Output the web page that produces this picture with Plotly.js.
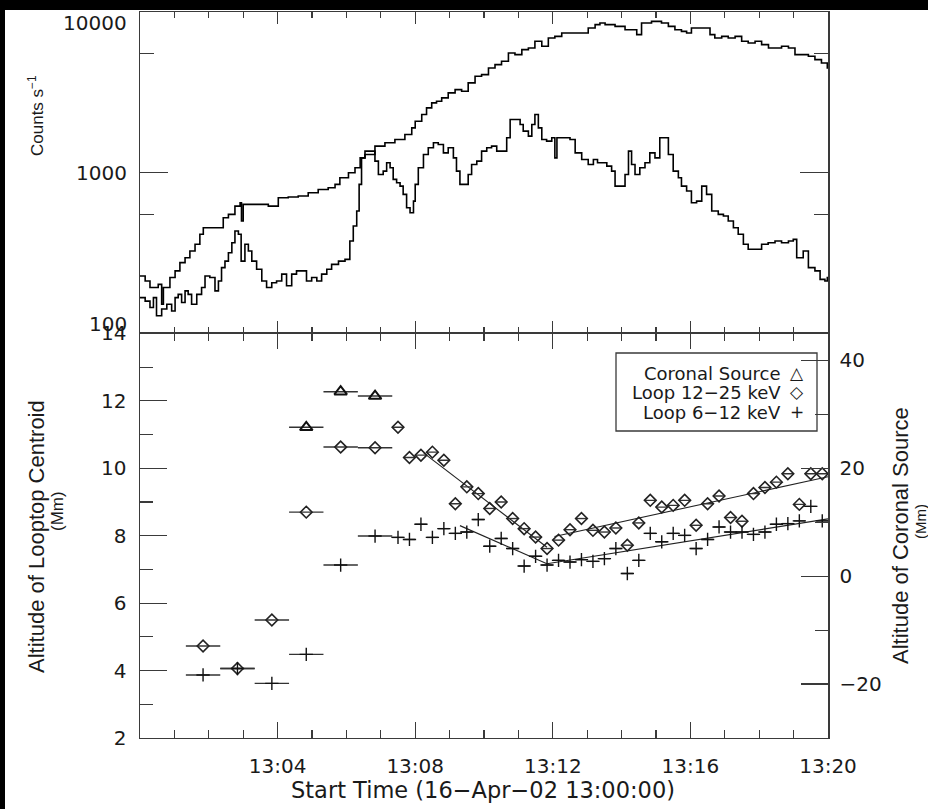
<!DOCTYPE html>
<html>
<head>
<meta charset="utf-8">
<script src="https://cdn.plot.ly/plotly-3.0.1.min.js"></script>
<style>
  html, body { margin: 0; padding: 0; background: #000; width: 928px; height: 809px; overflow: hidden; }
  #chart { position: absolute; left: 5px; top: 10px; width: 923px; height: 799px; background: #fff; }
</style>
</head>
<body>
<div id="chart"></div>
<script>
// ---- Light curves (minutes after 13:00:00, counts per second) ----
const softTime = [0.0,0.15,0.29,0.44,0.53,0.63,0.68,0.87,1.02,1.16,1.31,1.45,1.6,1.74,1.84,2.08,2.28,2.42,2.57,2.76,2.91,2.95,3.0,3.25,3.54,3.73,4.02,4.31,4.6,4.89,5.18,5.47,5.67,5.81,6.06,6.25,6.4,6.54,6.83,7.12,7.41,7.7,7.9,8.0,8.19,8.33,8.48,8.62,8.77,8.96,9.16,9.35,9.54,9.74,9.93,10.13,10.32,10.51,10.71,10.9,11.1,11.29,11.48,11.68,11.87,12.06,12.26,12.45,12.65,12.84,13.03,13.23,13.37,13.52,13.81,14.1,14.29,14.44,14.58,14.87,15.16,15.36,15.55,15.74,15.89,16.03,16.33,16.57,16.71,16.91,17.1,17.3,17.49,17.68,17.88,18.07,18.27,18.46,18.65,18.85,19.04,19.23,19.43,19.62,19.81,19.98,20.0];
const softCounts = [228,212,193,193,202,152,193,223,245,276,296,326,359,414,455,455,455,525,551,620,651,501,636,636,636,620,699,706,716,751,787,806,846,931,1000,1073,1238,1299,1464,1535,1610,1729,1902,2093,2302,2533,2720,2786,2921,3138,3291,3214,3622,3983,4078,4486,4705,4934,5561,5429,5832,5973,6570,6117,6892,7055,7401,7401,7401,7401,7950,8340,8539,8340,8143,7762,7762,7228,8539,8746,8539,8143,7762,7580,7401,7950,7950,7228,6892,7055,6892,7055,6570,6416,6570,6265,5973,5973,6117,5973,5429,5429,5302,5054,4819,4486,4486];

const hardTime = [0.0,0.15,0.29,0.39,0.48,0.63,0.78,0.92,1.02,1.11,1.21,1.31,1.4,1.5,1.65,1.79,1.89,2.03,2.18,2.28,2.37,2.47,2.57,2.67,2.76,2.86,2.94,3.05,3.15,3.25,3.39,3.54,3.68,3.83,3.97,4.12,4.26,4.41,4.55,4.7,4.84,4.99,5.14,5.28,5.43,5.57,5.77,5.96,6.1,6.2,6.3,6.37,6.44,6.54,6.73,6.83,6.93,7.07,7.17,7.27,7.36,7.46,7.56,7.65,7.75,7.85,7.95,8.0,8.09,8.24,8.38,8.53,8.67,8.82,8.96,9.11,9.2,9.3,9.45,9.54,9.64,9.79,9.93,10.08,10.22,10.37,10.51,10.66,10.76,10.9,11.05,11.14,11.29,11.39,11.48,11.58,11.68,11.82,11.97,12.06,12.12,12.35,12.5,12.65,12.84,13.03,13.18,13.3,13.42,13.57,13.71,13.81,14.0,14.1,14.2,14.29,14.39,14.53,14.68,14.82,14.97,15.11,15.26,15.36,15.5,15.65,15.74,15.89,16.03,16.18,16.33,16.47,16.62,16.81,16.96,17.1,17.25,17.39,17.54,17.68,17.88,18.07,18.26,18.46,18.65,18.85,18.99,19.09,19.28,19.43,19.62,19.77,19.91,19.98,20.0];
const hardCounts = [167,159,145,167,129,142,152,138,167,175,156,184,175,152,175,193,228,223,184,212,257,282,318,367,434,414,282,359,326,282,251,212,193,207,212,234,198,234,245,245,212,223,212,234,251,269,282,289,376,466,578,846,1238,1362,1362,1181,976,1023,1153,1073,909,866,826,733,606,564,666,846,1073,1299,1429,1535,1499,1330,1429,1238,1023,846,846,976,1126,1181,1362,1429,1464,1362,1362,1649,2143,2143,1995,1814,1689,1995,2302,1902,1610,1572,1649,1238,1649,1649,1610,1330,1209,1126,1209,1153,1153,1100,1023,826,826,976,1362,1126,976,1073,1153,1330,1238,1649,1649,1299,1023,931,826,769,651,666,826,733,578,551,538,501,455,414,359,334,334,359,367,376,367,376,385,296,326,257,245,217,212,223,223];

// ---- Source altitudes (bin centres in minutes after 13:00:00, altitude in Mm) ----
const coronalTime = [4.833, 5.833, 6.833];
const coronalAlt  = [27.6, 34.2, 33.4];
const coronalHalf = [0.5, 0.5, 0.5];

const loopTime = [1.833,2.833,3.833,4.833,5.833,6.833,7.5,7.833,8.167,8.5,8.833,9.167,9.5,9.833,10.167,10.5,10.833,11.167,11.5,11.833,12.167,12.5,12.833,13.167,13.5,13.833,14.167,14.5,14.833,15.167,15.5,15.833,16.167,16.5,16.833,17.167,17.5,17.833,18.167,18.5,18.833,19.167,19.5,19.833];
const loopHalf = [0.5,0.5,0.5,0.5,0.5,0.5,0.167,0.167,0.167,0.167,0.167,0.167,0.167,0.167,0.167,0.167,0.167,0.167,0.167,0.167,0.167,0.167,0.167,0.167,0.167,0.167,0.167,0.167,0.167,0.167,0.167,0.167,0.167,0.167,0.167,0.167,0.167,0.167,0.167,0.167,0.167,0.167,0.167,0.167];
const loop1225Alt = [4.73,4.06,5.50,8.70,10.63,10.61,11.22,10.32,10.39,10.48,10.24,8.95,9.45,9.25,8.81,9.00,8.51,8.21,7.96,7.62,7.87,8.18,8.51,8.16,8.11,8.23,7.72,8.38,9.05,8.85,8.90,9.05,8.31,8.95,9.18,8.54,8.43,9.25,9.43,9.59,9.84,8.93,9.84,9.84];
const loop612Alt  = [3.87,4.06,3.62,4.48,7.13,7.99,7.95,7.89,8.34,7.95,8.21,8.07,8.11,8.48,7.69,7.92,7.62,7.10,7.39,7.13,7.27,7.22,7.29,7.24,7.32,7.62,6.88,7.27,8.07,7.82,8.07,8.01,7.62,7.89,8.26,8.11,8.11,8.04,8.11,8.34,8.36,8.44,8.87,8.44];

// ---- Linear fits to the loop-top motion (start/end of each segment) ----
const fit1225DownT = [8.25, 11.83],  fit1225DownAlt = [10.45, 7.66];
const fit1225UpT   = [12.05, 20.0],  fit1225UpAlt   = [7.98, 9.75];
const fit612DownT  = [9.3, 11.83],   fit612DownAlt  = [8.3, 7.17];
const fit612UpT    = [11.83, 20.0],  fit612UpAlt    = [7.17, 8.5];

// ---- Axis tick labels ----
const timeTickVals = [4, 8, 12, 16, 20];
const timeTickText = ['13:04', '13:08', '13:12', '13:16', '13:20'];
const countTickVals = [10000, 1000, 100];
const countTickText = ['10000', '1000', '100'];
const legendLabels = ['Coronal Source', 'Loop 12\u221225 keV', 'Loop 6\u221212 keV'];
const legendGlyphs = ['\u25B3', '\u25C7', '+'];

// Pixel -> paper helpers (plot area spans x 140..828, y 12..738 in page pixels)
const PX0 = 140, PXW = 688, PY1 = 738, PYH = 726;
const px = X => (X - PX0) / PXW;
const py = Y => (PY1 - Y) / PYH;

const FONT = 'DejaVu Sans, sans-serif';
const TITLE_FONT = 'Liberation Sans, Arial, sans-serif';
const INK = '#1a1a1a';
const AX = '#3a3a3a';

const traces = [
  { x: softTime, y: softCounts, xaxis: 'x', yaxis: 'y', mode: 'lines',
    line: { shape: 'hv', color: '#000', width: 1.6 }, hoverinfo: 'skip' },
  { x: hardTime, y: hardCounts, xaxis: 'x', yaxis: 'y', mode: 'lines',
    line: { shape: 'hv', color: '#000', width: 1.6 }, hoverinfo: 'skip' },

  { x: fit1225DownT, y: fit1225DownAlt, xaxis: 'x2', yaxis: 'y2', mode: 'lines', line: { color: '#222', width: 1.1 } },
  { x: fit1225UpT,   y: fit1225UpAlt,   xaxis: 'x2', yaxis: 'y2', mode: 'lines', line: { color: '#222', width: 1.1 } },
  { x: fit612DownT,  y: fit612DownAlt,  xaxis: 'x2', yaxis: 'y2', mode: 'lines', line: { color: '#222', width: 1.1 } },
  { x: fit612UpT,    y: fit612UpAlt,    xaxis: 'x2', yaxis: 'y2', mode: 'lines', line: { color: '#222', width: 1.1 } },

  { x: loopTime, y: loop1225Alt, xaxis: 'x2', yaxis: 'y2', mode: 'markers',
    marker: { symbol: 'diamond-open', size: 9, color: '#222', line: { width: 1.6, color: '#222' } },
    error_x: { type: 'data', array: loopHalf, width: 0, thickness: 1.4, color: '#333' } },
  { x: loopTime, y: loop612Alt, xaxis: 'x2', yaxis: 'y2', mode: 'markers',
    marker: { symbol: 'cross-thin-open', size: 9.5, color: '#111', line: { width: 1.4, color: '#111' } },
    error_x: { type: 'data', array: loopHalf, width: 0, thickness: 1.4, color: '#333' } },
  { x: coronalTime, y: coronalAlt, xaxis: 'x2', yaxis: 'y3', mode: 'markers',
    marker: { symbol: 'triangle-up-open', size: 11, color: '#111', line: { width: 2, color: '#111' } },
    error_x: { type: 'data', array: coronalHalf, width: 0, thickness: 1.4, color: '#333' } }
];

const tickFont = { family: FONT, size: 20, color: INK };

const annotations = [];
// Count-rate tick labels (kept inside the panel height)
const countAnchor = ['top', 'middle', 'middle'];
const countShift = [3, 0, 9];
countTickVals.forEach((v, i) => {
  annotations.push({ xref: 'paper', yref: 'y', x: px(129), y: Math.log10(v), xanchor: 'right', yanchor: countAnchor[i],
    yshift: countShift[i], text: countTickText[i], showarrow: false, font: tickFont });
});
// Axis titles
const rot = (X, Y, text, size) => ({ xref: 'paper', yref: 'paper', x: px(X), y: py(Y), xanchor: 'center', yanchor: 'middle',
  text: text, textangle: -90, showarrow: false, font: { family: TITLE_FONT, size: size, color: INK } });
annotations.push(
  rot(36, 116, 'Counts s<sup>\u22121</sup>', 17),
  rot(36, 537, 'Altitude of Looptop Centroid', 22),
  rot(57, 511, '(Mm)', 17),
  rot(900, 536, 'Altitude of Coronal Source', 22),
  rot(920, 522, '(Mm)', 15),
  { xref: 'paper', yref: 'paper', x: px(483), y: py(790), xanchor: 'center', yanchor: 'middle',
    text: 'Start Time (16\u2212Apr\u221202 13:00:00)', showarrow: false,
    font: { family: FONT, size: 22.5, color: INK } }
);
// Legend panel
const legendRows = [373, 392.5, 412];
legendLabels.forEach((t, i) => {
  annotations.push({ xref: 'paper', yref: 'paper', x: px(783), y: py(legendRows[i]), xanchor: 'right', yanchor: 'middle',
    text: t, showarrow: false, font: { family: FONT, size: 18, color: INK } });
  annotations.push({ xref: 'paper', yref: 'paper', x: px(797), y: py(legendRows[i]), xanchor: 'center', yanchor: 'middle',
    text: legendGlyphs[i], showarrow: false, font: { family: FONT, size: 17, color: INK } });
});

const layout = {
  width: 923, height: 799,
  margin: { l: 135, r: 100, t: 2, b: 71 },
  paper_bgcolor: '#fff', plot_bgcolor: '#fff',
  showlegend: false,
  font: { family: FONT, color: INK },
  xaxis: {
    anchor: 'y', domain: [0, 1], range: [0, 20], showgrid: false, zeroline: false,
    showline: true, linecolor: AX, linewidth: 1, mirror: 'ticks',
    ticks: 'inside', tickvals: [0, 4, 8, 12, 16, 20], ticklen: 12, tickwidth: 1.2, tickcolor: AX,
    showticklabels: false,
    minor: { ticks: 'inside', dtick: 1, tick0: 0, ticklen: 6, tickwidth: 1.2, tickcolor: AX }
  },
  yaxis: {
    anchor: 'x', domain: [0.5572, 1], type: 'log', range: [2, 4], showgrid: false, zeroline: false,
    showline: true, linecolor: AX, linewidth: 1.5, mirror: 'ticks',
    ticks: 'inside', tickvals: countTickVals, ticklen: 28, tickwidth: 1.2, tickcolor: AX,
    showticklabels: false,
    minor: { ticks: 'inside', tickmode: 'array', tickvals: [550, 5500], ticklen: 14, tickwidth: 1.2, tickcolor: AX }
  },
  xaxis2: {
    anchor: 'y2', domain: [0, 1], range: [0, 20], showgrid: false, zeroline: false,
    showline: true, linecolor: AX, linewidth: 1, mirror: 'ticks',
    ticks: 'inside', tickvals: timeTickVals, ticktext: timeTickText, ticklen: 16, tickwidth: 1.2, tickcolor: AX,
    tickfont: tickFont, ticklabelstandoff: 10,
    minor: { ticks: 'inside', dtick: 1, tick0: 0, ticklen: 8, tickwidth: 1.2, tickcolor: AX }
  },
  yaxis2: {
    anchor: 'x2', domain: [0, 0.5572], range: [2, 14], showgrid: false, zeroline: false,
    showline: true, linecolor: AX, linewidth: 1.5,
    ticks: 'inside', tickvals: [2, 4, 6, 8, 10, 12, 14], ticklen: 27, tickwidth: 1.2, tickcolor: AX,
    tickfont: tickFont, ticklabelstandoff: 8,
    minor: { ticks: 'inside', dtick: 1, tick0: 0, ticklen: 13, tickwidth: 1.2, tickcolor: AX }
  },
  yaxis3: {
    anchor: 'x2', overlaying: 'y2', side: 'right', range: [-30, 45], showgrid: false, zeroline: false,
    showline: true, linecolor: AX, linewidth: 1.5,
    ticks: 'inside', tickvals: [-20, 0, 20, 40], ticktext: ['\u221220', '0', '20', '40'], ticklen: 27, tickwidth: 1.2, tickcolor: AX,
    tickfont: tickFont, ticklabelstandoff: 6,
    minor: { ticks: 'inside', tickmode: 'array', tickvals: [-10, 10, 30], ticklen: 13, tickwidth: 1.2, tickcolor: AX }
  },
  shapes: [
    { type: 'rect', xref: 'paper', yref: 'paper', x0: px(616), x1: px(817), y0: py(431), y1: py(353),
      line: { color: AX, width: 1.3 }, fillcolor: 'rgba(0,0,0,0)' }
  ],
  annotations: annotations
};

Plotly.newPlot('chart', traces, layout, { staticPlot: true, displayModeBar: false });
</script>
</body>
</html>
